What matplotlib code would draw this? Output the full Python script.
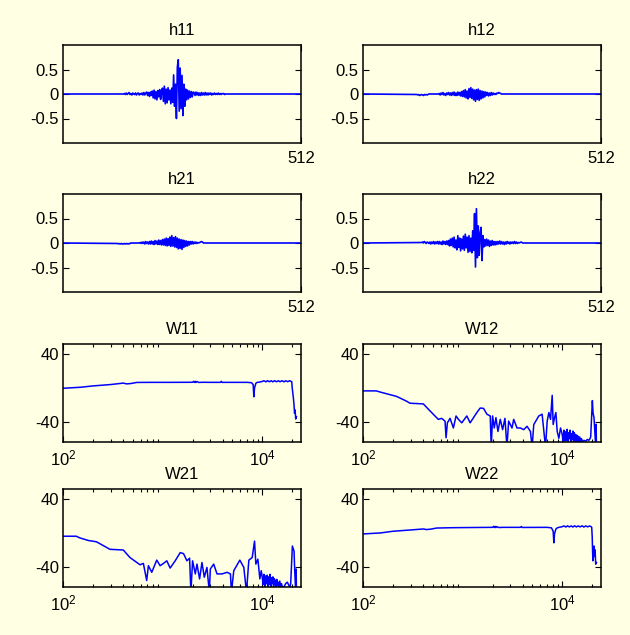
import numpy as np
import matplotlib
matplotlib.use('Agg')
import matplotlib.pyplot as plt
from matplotlib.ticker import LogLocator, NullFormatter

plt.rcParams['font.family'] = ['Liberation Sans', 'DejaVu Sans']
plt.rcParams['axes.unicode_minus'] = False
plt.rcParams['font.size'] = 12

BG = '#FFFFE3'
LINE = '#0000FF'

# impulse responses (512 taps), values read every 2nd tap from the first active tap
n_taps = 512
h11_start = 130
h11 = [0.0, 0.01, -0.01, 0.02, -0.01, 0.01, 0.03, -0.01, 0.01, -0.02, 0.02, 0.0, -0.01,
       0.02, -0.02, 0.01, 0.02, -0.02, 0.01, -0.01, 0.02, -0.02, 0.03, -0.02, 0.02,
       0.04, -0.03, 0.03, -0.05, 0.04, -0.03,
       0.06, -0.08, 0.08, -0.1, 0.05, -0.12, 0.07, -0.06, 0.09, -0.11, 0.04,
       0.12, -0.15, 0.16, -0.2, 0.1, -0.18, 0.13, -0.12,
       0.08, -0.2, 0.12, -0.17, 0.39, -0.25, 0.2, -0.5, 0.55, 0.7, -0.35, 0.53,
       -0.3, 0.38, -0.44, 0.2, -0.25,
       0.1, -0.12, 0.08, -0.1, 0.06, -0.07, 0.05, -0.06, 0.04,
       0.03, -0.03, 0.04, -0.02, 0.03, -0.03, 0.02, -0.03, 0.03, -0.02, 0.02, -0.02,
       0.03, -0.02, 0.02, -0.02, 0.02, -0.01, 0.02, -0.02, 0.01, -0.01, 0.02, -0.01,
       0.01, -0.01, 0.02, -0.01, 0.01, -0.01, 0.01, 0.0, 0.01, -0.01, 0.0, 0.0]
h12_start = 116
h12 = [-0.01, -0.02, -0.01, -0.03, -0.02, -0.01, -0.02, -0.03, -0.01, -0.02, -0.01, -0.02, -0.01,
       0.0, 0.0, 0.0, 0.0, 0.0, 0.0, 0.0, 0.0, 0.0, 0.0, 0.0,
       0.01, -0.02, 0.02, -0.01, 0.03, -0.02, 0.01, -0.03, 0.02, -0.01, 0.03, -0.02, 0.02,
       -0.03, 0.03, -0.02, 0.04, -0.03, 0.02, -0.03, 0.04, -0.02, 0.03, -0.04, 0.05,
       -0.05, 0.07, -0.06, 0.09, -0.08, 0.06, -0.1, 0.11, -0.07, 0.13, -0.09, 0.1, -0.12,
       0.08, -0.15, 0.09, -0.11, 0.1, -0.13, 0.07, -0.1, 0.06, -0.08, 0.05, -0.06,
       0.04, -0.03, 0.03, -0.04, 0.02, -0.03, 0.03, -0.02, 0.02, -0.01, 0.01, -0.01,
       0.02, 0.01, 0.03, 0.02, 0.01, 0.0]
h21_start = 118
h21 = [-0.01, -0.02, -0.01, -0.02, -0.01, -0.02, -0.02, -0.01, -0.02, -0.01, -0.02, -0.01, -0.02, -0.01,
       0.0, 0.0, 0.0, 0.0, 0.0, 0.0, 0.0, 0.0, 0.0, 0.0,
       0.01, -0.01, 0.02, -0.01, 0.02, -0.02, 0.03, -0.01, 0.02, -0.02, 0.03, -0.02, 0.04,
       -0.02, 0.03, -0.03, 0.05, -0.02, 0.04, -0.03, 0.06, -0.03, 0.05, -0.04, 0.07,
       -0.04, 0.08, -0.05, 0.1, -0.06, 0.09, -0.05, 0.12, -0.07, 0.15, -0.06, 0.11, -0.08,
       0.13, -0.09, 0.1, -0.12, 0.08, -0.11, 0.07, -0.13, 0.06, -0.09, 0.05, -0.07, 0.04,
       -0.06, 0.03, -0.04,
       0.03, -0.02, 0.03, -0.02, 0.02, -0.01, 0.02, -0.01, 0.01, 0.0, 0.01, 0.02, 0.03, 0.02, 0.0]
h22_start = 126
h22 = [0.01, 0.02, 0.0, 0.03, 0.01, -0.01, 0.02, 0.01, -0.01, 0.02, -0.02, 0.02, -0.01, 0.03,
       -0.02, 0.02, -0.01, 0.03, -0.02, 0.03, -0.02, 0.02, -0.03, 0.04, -0.02, 0.03, -0.03,
       0.04, -0.03,
       0.05, -0.06, 0.08, -0.05, 0.1, -0.08, 0.12, -0.1, 0.06, -0.14, 0.15, -0.09, 0.1,
       -0.16, 0.08, -0.12,
       0.14, -0.15, 0.18, -0.1, 0.12, -0.19, 0.15, -0.17, 0.1, -0.2, 0.25, -0.15,
       0.6, -0.49, 0.7, -0.3, 0.35, -0.25, 0.2, 0.32, -0.36, 0.15,
       -0.08, 0.07, -0.06, 0.08, -0.05, 0.06, -0.07, 0.04, -0.05, 0.05, -0.04, 0.03, -0.04,
       0.03, -0.03, 0.03, -0.02, 0.04, -0.02, 0.03, -0.02, 0.02, -0.03, 0.02, -0.02, 0.03,
       -0.01, 0.02, -0.02, 0.02, -0.01, 0.02, -0.01, 0.03, -0.01, 0.02, -0.01, 0.01, 0.0,
       0.01, 0.02, 0.01, 0.0, 0.0]

# frequency responses (Hz, dB)
W11 = [(100, -0.4), (150, 0.8), (201, 2.4), (300, 4.0), (403, 5.7), (435, 4.8), (480, 5.2),
       (549, 6.5), (800, 6.6), (1200, 6.6), (2000, 6.7), (2046, 7.8), (2080, 6.5), (2130, 7.8),
       (2160, 6.4), (2213, 7.6), (2300, 6.5), (2540, 6.7), (3000, 6.6), (3800, 6.6), (3890, 7.8),
       (3952, 6.5), (4100, 6.6), (6000, 6.6), (7063, 6.6), (7800, 6.2), (8110, 4.0), (8240, -10.5),
       (8370, 0.0), (8630, 5.5), (8904, 6.6), (9300, 6.8), (10000, 7.7), (10400, 8.5), (10900, 7.2),
       (11300, 8.6), (11800, 7.3), (12300, 8.5), (12800, 7.2), (13300, 8.6), (13900, 7.3),
       (14500, 8.5), (15100, 7.3), (15800, 8.6), (16500, 7.2), (17200, 8.5), (18000, 7.4),
       (18800, 8.5), (19500, 7.7), (19770, 7.5), (20000, 0.0), (20550, -12), (20850, -20),
       (21100, -30), (21370, -26), (21680, -36.8), (22050, -34)]
W12 = [(100, -3.5), (136, -3.5), (147, -4.7), (217, -10), (274, -15.7), (296, -18.1), (403, -18.9),
       (470, -27.1), (570, -37.2), (616, -36), (666, -39.3), (682, -59), (703, -41.3), (748, -36),
       (808, -47.4), (859, -33.2), (908, -37.2), (981, -41.3), (1102, -33.2), (1190, -41.3),
       (1390, -29.1), (1501, -23.8), (1622, -24.2), (1753, -31.1), (1893, -33.2), (1937, -70),
       (1999, -33.2), (2078, -47.4), (2160, -35.2), (2262, -51.5), (2388, -37.2), (2521, -49.4),
       (2661, -36), (2786, -70), (2897, -39.3), (3133, -47.4), (3256, -37.2), (3516, -47.4),
       (3800, -47.4), (4104, -49.4), (4436, -45.4), (4795, -51.5), (4984, -70), (5180, -43.3),
       (5818, -33.2), (6281, -31.1), (6792, -70), (7063, -39.3), (7338, -29.1), (7628, -37.2),
       (7930, -8.8), (8110, -43.3), (8370, -35.2), (8630, -29.1), (8904, -51.5), (9250, -59.6),
       (9616, -47.4), (10000, -55), (10200, -63), (10400, -50), (10600, -66), (10800, -52),
       (11000, -62), (11200, -49), (11400, -65), (11600, -53), (11800, -60), (12000, -50),
       (12200, -67), (12400, -54), (12600, -61), (12800, -51), (13000, -64), (13200, -53),
       (13400, -62), (13600, -55), (13800, -66), (14000, -56), (14200, -63), (14400, -57),
       (14700, -65), (15000, -58), (15300, -66), (15600, -60), (16000, -64), (16520, -62),
       (17180, -63), (17860, -61), (18500, -62), (19000, -60), (19300, -58), (20070, -15),
       (20400, -30), (20850, -35.2), (21200, -50), (21680, -70), (21900, -43), (22050, -70)]
W21 = [(100, -3.9), (136, -3.9), (147, -5.8), (179, -8.9), (217, -10.5), (296, -19.4), (403, -20.2),
       (470, -29.1), (593, -37.7), (641, -36.1), (692, -56.3), (720, -38.8), (778, -46.6),
       (873, -32.2), (944, -38.8), (1019, -36.1), (1102, -33), (1190, -41.6), (1337, -33),
       (1501, -23.3), (1622, -24.5), (1753, -33), (1865, -29.9), (1923, -70), (1999, -33),
       (2128, -48.5), (2213, -36.9), (2350, -54.4), (2483, -35), (2621, -52.4), (2786, -40.8),
       (2943, -70), (3013, -42.7), (3256, -36.9), (3516, -48.5), (3952, -48.5), (4436, -46.6),
       (4795, -48.5), (4907, -70), (5180, -44.7), (5957, -32.2), (6531, -40.8), (6950, -70),
       (7338, -32.2), (7930, -29.1), (8370, -9.7), (8630, -36.9), (9040, -31.1), (9465, -54.4),
       (9772, -44.7), (10000, -52), (10200, -61), (10400, -49), (10600, -64), (10800, -51),
       (11000, -60), (11200, -50), (11400, -66), (11600, -52), (11800, -61), (12000, -49),
       (12200, -65), (12400, -53), (12600, -60), (12800, -52), (13000, -66), (13200, -54),
       (13400, -61), (13600, -56), (13800, -65), (14000, -55), (14200, -62), (14400, -58),
       (14700, -66), (15000, -57), (15300, -64), (15600, -60), (16000, -65), (16520, -64),
       (17180, -60), (17860, -58.3), (18500, -62), (19000, -64), (19300, -60), (20070, -15.5),
       (20850, -21.4), (21200, -45), (21680, -70), (21900, -42.7), (22050, -70)]
W22 = [(100, -1.2), (150, 0.0), (201, 2.0), (300, 3.5), (403, 4.7), (435, 4.0), (480, 4.5),
       (549, 5.8), (800, 6.2), (1500, 6.5), (2000, 6.6), (2046, 7.8), (2080, 6.4), (2130, 7.7),
       (2160, 6.3), (2213, 7.5), (2300, 6.4), (2540, 6.6), (3800, 6.6), (3890, 7.6), (3952, 6.5),
       (7063, 6.6), (7800, 6.0), (8110, 2.0), (8240, -11.7), (8370, -1.0), (8630, 4.5),
       (8904, 6.0), (9300, 6.6), (10000, 7.4), (10400, 8.3), (10900, 7.0), (11300, 8.4),
       (11800, 7.1), (12300, 8.3), (12800, 7.0), (13300, 8.4), (13900, 7.1), (14500, 8.3),
       (15100, 7.1), (15800, 8.4), (16500, 7.0), (17200, 8.3), (18000, 7.2), (18800, 8.2),
       (19500, 7.4), (19770, 6.5), (20000, -5), (20300, -33), (20550, -25), (20850, -15.5),
       (21100, -28), (21370, -20), (21680, -37), (22050, -35)]

h_series = [('h11', h11_start, h11), ('h12', h12_start, h12),
            ('h21', h21_start, h21), ('h22', h22_start, h22)]
w_series = [('W11', W11), ('W12', W12), ('W21', W21), ('W22', W22)]

fig = plt.figure(figsize=(6.3, 6.35), dpi=100, facecolor=BG)

col_left = [63 / 630, 363 / 630]
ax_w = 238 / 630
ax_h = 98 / 635
row_bottom = [1 - 143 / 635, 1 - 292 / 635, 1 - 442 / 635, 1 - 587 / 635]


def style_axes(ax, xpad):
    ax.set_facecolor(BG)
    for sp in ax.spines.values():
        sp.set_linewidth(1.1)
        sp.set_color('black')
    ax.tick_params(which='both', direction='in', top=True, right=True,
                   labelsize=12, pad=3, width=0.8)
    ax.tick_params(axis='x', which='both', pad=xpad)
    ax.tick_params(which='major', length=4)
    ax.tick_params(which='minor', length=2.5)


for i, (name, start, vals) in enumerate(h_series):
    r, c = divmod(i, 2)
    ax = fig.add_axes([col_left[c], row_bottom[r], ax_w, ax_h])
    idx = start + 2 * np.arange(len(vals))
    full_x = np.concatenate([[0], idx, [n_taps]])
    full_y = np.concatenate([[0.0], vals, [0.0]])
    ax.plot(full_x, full_y, color=LINE, lw=1.2)
    ax.set_xlim(0, n_taps)
    ax.set_ylim(-1, 1)
    ax.set_yticks([-0.5, 0, 0.5])
    ax.set_yticklabels(['-0.5', '0', '0.5'])
    ax.set_xticks([n_taps])
    ax.set_xticklabels([str(n_taps)])
    style_axes(ax, 6)
    ax.set_title(name, fontsize=12, pad=7)

for i, (name, pts) in enumerate(w_series):
    r, c = divmod(i, 2)
    ax = fig.add_axes([col_left[c], row_bottom[r + 2], ax_w, ax_h])
    f, db = np.array(pts).T
    ax.semilogx(f, db, color=LINE, lw=1.1)
    ax.set_xlim(100, 24500)
    ax.set_ylim(-64, 52)
    ax.set_yticks([-40, 40])
    ax.set_yticklabels(['-40', '40'])
    ax.set_xticks([1e2, 1e4])
    ax.set_xticklabels([r'$\mathregular{10^{2}}$', r'$\mathregular{10^{4}}$'])
    ax.xaxis.set_minor_locator(LogLocator(base=10, subs=np.arange(2, 10)))
    ax.xaxis.set_minor_formatter(NullFormatter())
    style_axes(ax, 4.5)
    ax.set_title(name, fontsize=12, pad=7)

fig.savefig('out.png', dpi=100, facecolor=BG)
